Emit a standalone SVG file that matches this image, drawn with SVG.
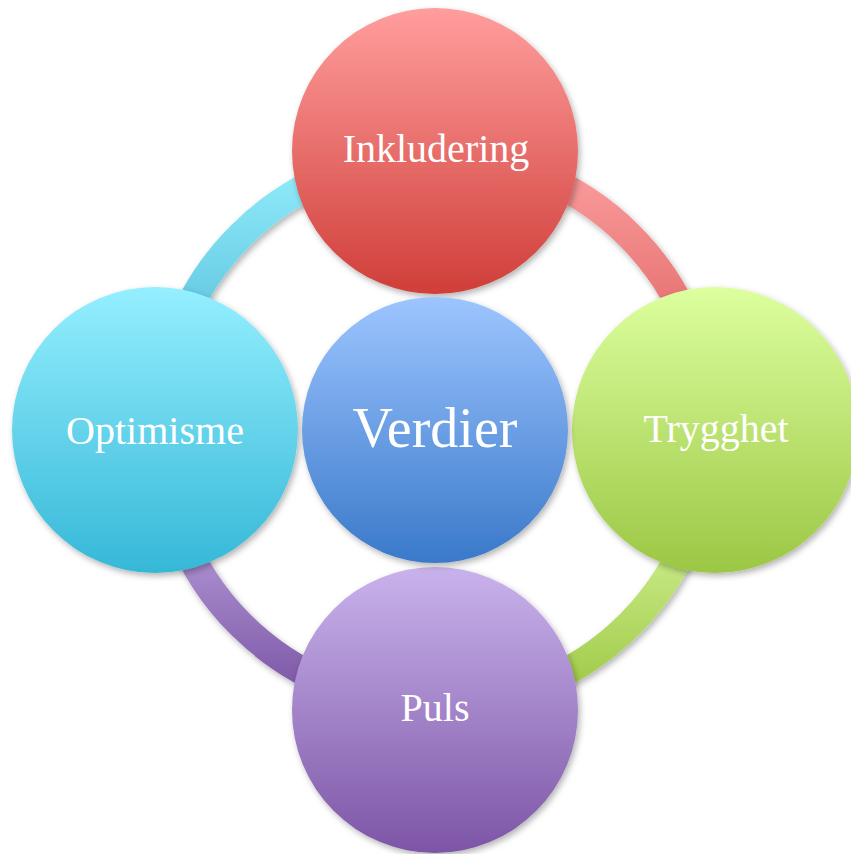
<svg xmlns="http://www.w3.org/2000/svg" width="851" height="854" viewBox="0 0 851 854">
  <defs>
    <filter id="shadow" x="-20%" y="-20%" width="140%" height="140%">
      <feDropShadow dx="2" dy="3" stdDeviation="3" flood-color="#000" flood-opacity="0.3"/>
    </filter>
    <!-- ring segment fills -->
    <linearGradient id="arcCyan" gradientUnits="userSpaceOnUse" x1="0" y1="170" x2="0" y2="300">
      <stop offset="0" stop-color="#90EBFA"/>
      <stop offset="1" stop-color="#68CCE4"/>
    </linearGradient>
    <linearGradient id="arcRed" gradientUnits="userSpaceOnUse" x1="0" y1="170" x2="0" y2="300">
      <stop offset="0" stop-color="#FA9C9C"/>
      <stop offset="1" stop-color="#E97676"/>
    </linearGradient>
    <linearGradient id="arcGreen" gradientUnits="userSpaceOnUse" x1="0" y1="560" x2="0" y2="690">
      <stop offset="0" stop-color="#C6E882"/>
      <stop offset="1" stop-color="#A0CA48"/>
    </linearGradient>
    <linearGradient id="arcPurple" gradientUnits="userSpaceOnUse" x1="0" y1="560" x2="0" y2="690">
      <stop offset="0" stop-color="#AA8DCF"/>
      <stop offset="1" stop-color="#7C57A6"/>
    </linearGradient>
    <!-- node fills -->
    <linearGradient id="gRed" x1="0" y1="0" x2="0" y2="1">
      <stop offset="0" stop-color="#FF9E9D"/>
      <stop offset="1" stop-color="#D03E39"/>
    </linearGradient>
    <linearGradient id="gGreen" x1="0" y1="0" x2="0" y2="1">
      <stop offset="0" stop-color="#DDFF9F"/>
      <stop offset="1" stop-color="#9BC744"/>
    </linearGradient>
    <linearGradient id="gPurple" x1="0" y1="0" x2="0" y2="1">
      <stop offset="0" stop-color="#C9B3EC"/>
      <stop offset="1" stop-color="#7D55A6"/>
    </linearGradient>
    <linearGradient id="gCyan" x1="0" y1="0" x2="0" y2="1">
      <stop offset="0" stop-color="#95EFFF"/>
      <stop offset="1" stop-color="#35B8D7"/>
    </linearGradient>
    <linearGradient id="gBlue" x1="0" y1="0" x2="0" y2="1">
      <stop offset="0" stop-color="#9DC5FF"/>
      <stop offset="1" stop-color="#3A79CA"/>
    </linearGradient>
  </defs>
  <style>
    .arc { fill: none; stroke-width: 28; filter: url(#shadow); }
    .node { filter: url(#shadow); }
    .label { font-family: "Liberation Serif", "DejaVu Serif", serif; fill: #FFFFFF; text-anchor: middle; font-size: 40px; }
    .big { font-size: 56px; }
  </style>
  <rect width="851" height="854" fill="#FFFFFF"/>

  <!-- ring segments joining the outer nodes -->
  <g id="connectors">
    <path class="arc" stroke="url(#arcCyan)" d="M 160 430 A 275 275 0 0 1 435 155"/>
    <path class="arc" stroke="url(#arcRed)" d="M 435 155 A 275 275 0 0 1 710 430"/>
    <path class="arc" stroke="url(#arcGreen)" d="M 710 430 A 275 275 0 0 1 435 705"/>
    <path class="arc" stroke="url(#arcPurple)" d="M 435 705 A 275 275 0 0 1 160 430"/>
  </g>

  <g id="inkludering">
    <circle class="node" cx="435" cy="151" r="143" fill="url(#gRed)"/>
    <text class="label" x="436" y="162">Inkludering</text>
  </g>
  <g id="trygghet">
    <circle class="node" cx="715" cy="430" r="143" fill="url(#gGreen)"/>
    <text class="label" x="716" y="442">Trygghet</text>
  </g>
  <g id="puls">
    <circle class="node" cx="435" cy="710" r="143" fill="url(#gPurple)"/>
    <text class="label" x="435" y="721">Puls</text>
  </g>
  <g id="optimisme">
    <circle class="node" cx="155" cy="430" r="143" fill="url(#gCyan)"/>
    <text class="label" x="155" y="444">Optimisme</text>
  </g>
  <g id="verdier">
    <circle class="node" cx="435" cy="430" r="133" fill="url(#gBlue)"/>
    <text class="label big" x="435" y="447">Verdier</text>
  </g>
</svg>
